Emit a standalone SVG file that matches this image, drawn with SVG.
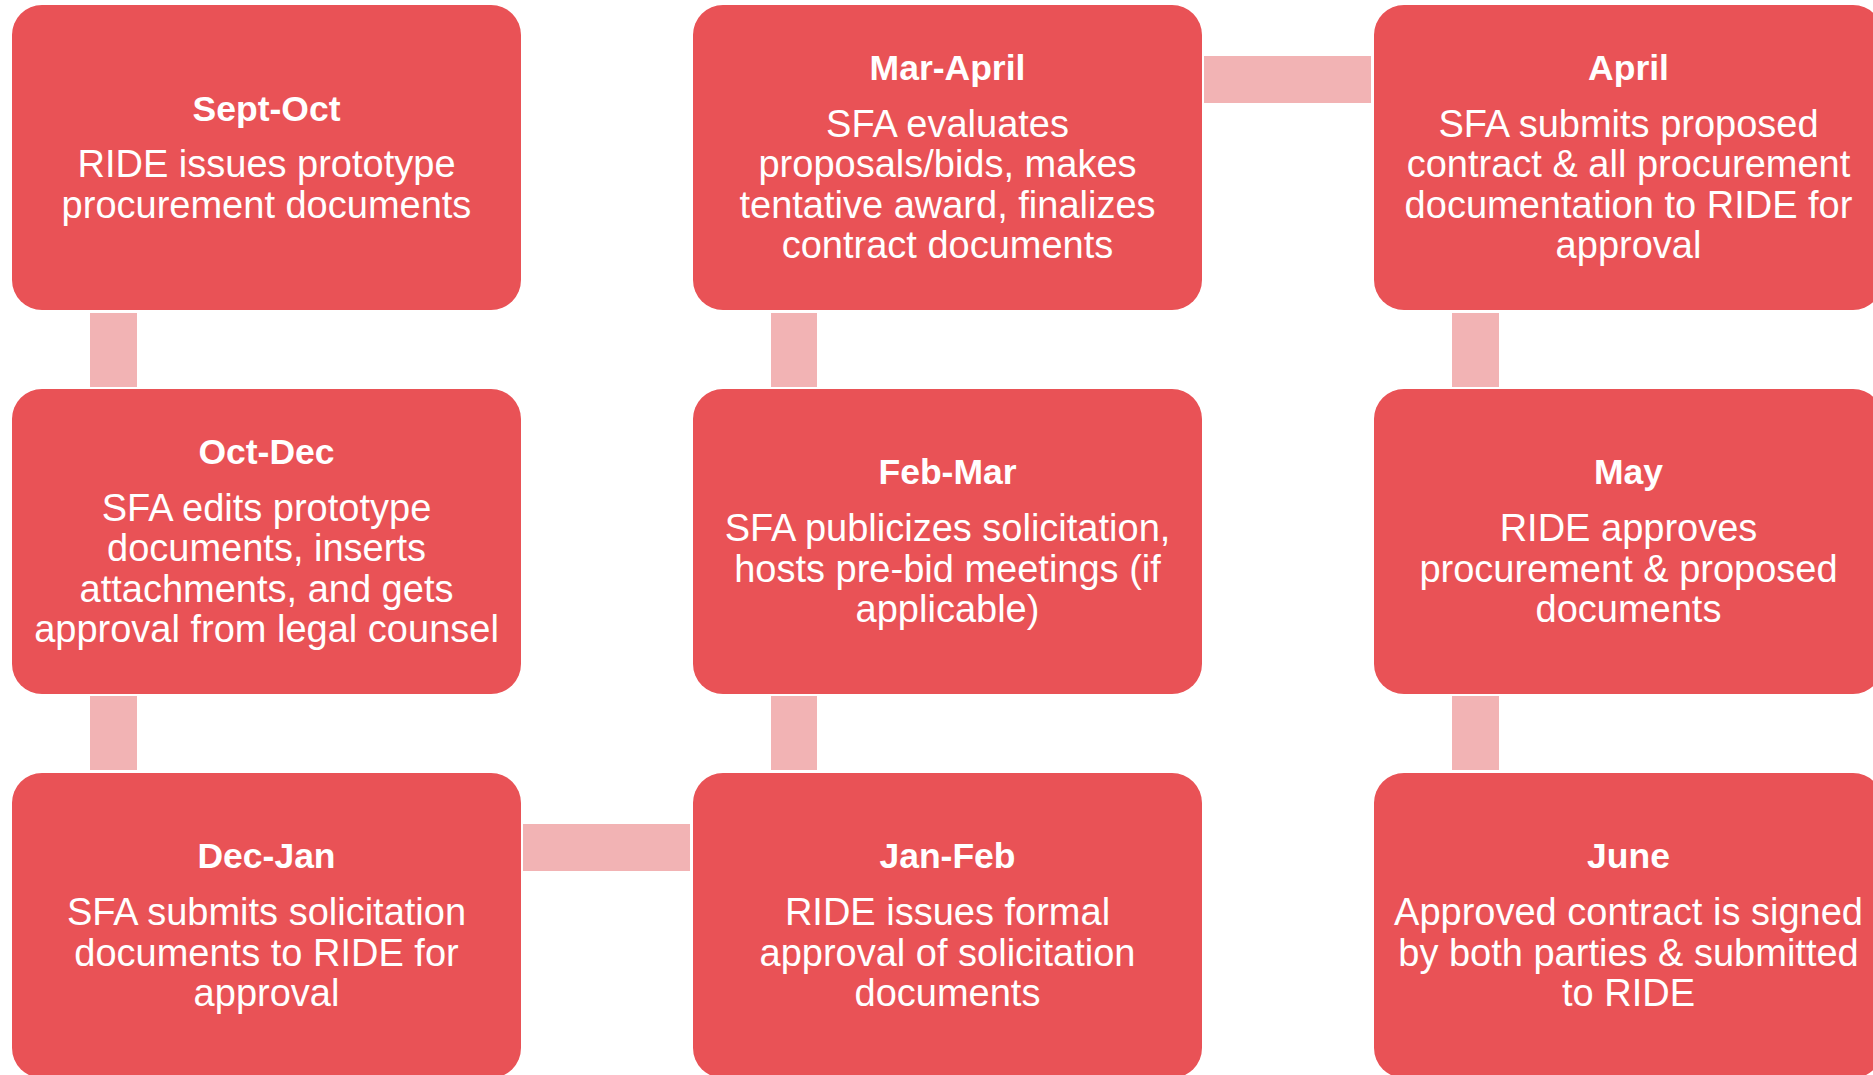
<svg xmlns="http://www.w3.org/2000/svg" width="1873" height="1075" viewBox="0 0 1873 1075">
  <style>
    .box { fill: #E95256; }
    .link { fill: #F2B3B4; }
    text { fill: #ffffff; font-family: "Liberation Sans", Arial, sans-serif; text-anchor: middle; }
    .title { font-size: 35.5px; font-weight: bold; }
    .body { font-size: 38px; }
  </style>
  <rect width="1873" height="1075" fill="#ffffff"/>

  <!-- connectors between steps -->
  <g id="connectors">
    <rect class="link" x="90" y="313" width="47" height="74"/>
    <rect class="link" x="90" y="696" width="47" height="74"/>
    <rect class="link" x="523" y="824" width="167" height="47"/>
    <rect class="link" x="771" y="696" width="46" height="74"/>
    <rect class="link" x="771" y="313" width="46" height="74"/>
    <rect class="link" x="1204" y="56" width="167" height="47"/>
    <rect class="link" x="1452" y="313" width="47" height="74"/>
    <rect class="link" x="1452" y="696" width="47" height="74"/>
  </g>

  <g id="sept-oct">
    <rect class="box" x="12" y="5" width="509" height="305" rx="30"/>
    <text class="title" x="266.5" y="120.5">Sept-Oct</text>
    <text class="body"><tspan x="266.5" y="177.2">RIDE issues prototype</tspan><tspan x="266.5" y="217.8">procurement documents</tspan></text>
  </g>

  <g id="oct-dec">
    <rect class="box" x="12" y="389" width="509" height="305" rx="30"/>
    <text class="title" x="266.5" y="463.9">Oct-Dec</text>
    <text class="body"><tspan x="266.5" y="520.6">SFA edits prototype</tspan><tspan x="266.5" y="561.2">documents, inserts</tspan><tspan x="266.5" y="601.8">attachments, and gets</tspan><tspan x="266.5" y="642.4">approval from legal counsel</tspan></text>
  </g>

  <g id="dec-jan">
    <rect class="box" x="12" y="773" width="509" height="305" rx="30"/>
    <text class="title" x="266.5" y="868.2">Dec-Jan</text>
    <text class="body"><tspan x="266.5" y="924.9">SFA submits solicitation</tspan><tspan x="266.5" y="965.5">documents to RIDE for</tspan><tspan x="266.5" y="1006.1">approval</tspan></text>
  </g>

  <g id="jan-feb">
    <rect class="box" x="693" y="773" width="509" height="305" rx="30"/>
    <text class="title" x="947.5" y="868.2">Jan-Feb</text>
    <text class="body"><tspan x="947.5" y="924.9">RIDE issues formal</tspan><tspan x="947.5" y="965.5">approval of solicitation</tspan><tspan x="947.5" y="1006.1">documents</tspan></text>
  </g>

  <g id="feb-mar">
    <rect class="box" x="693" y="389" width="509" height="305" rx="30"/>
    <text class="title" x="947.5" y="484.2">Feb-Mar</text>
    <text class="body"><tspan x="947.5" y="540.9">SFA publicizes solicitation,</tspan><tspan x="947.5" y="581.5">hosts pre-bid meetings (if</tspan><tspan x="947.5" y="622.1">applicable)</tspan></text>
  </g>

  <g id="mar-april">
    <rect class="box" x="693" y="5" width="509" height="305" rx="30"/>
    <text class="title" x="947.5" y="79.9">Mar-April</text>
    <text class="body"><tspan x="947.5" y="136.6">SFA evaluates</tspan><tspan x="947.5" y="177.2">proposals/bids, makes</tspan><tspan x="947.5" y="217.8">tentative award, finalizes</tspan><tspan x="947.5" y="258.4">contract documents</tspan></text>
  </g>

  <g id="april">
    <rect class="box" x="1374" y="5" width="509" height="305" rx="30"/>
    <text class="title" x="1628.5" y="79.9">April</text>
    <text class="body"><tspan x="1628.5" y="136.6">SFA submits proposed</tspan><tspan x="1628.5" y="177.2">contract &amp; all procurement</tspan><tspan x="1628.5" y="217.8">documentation to RIDE for</tspan><tspan x="1628.5" y="258.4">approval</tspan></text>
  </g>

  <g id="may">
    <rect class="box" x="1374" y="389" width="509" height="305" rx="30"/>
    <text class="title" x="1628.5" y="484.2">May</text>
    <text class="body"><tspan x="1628.5" y="540.9">RIDE approves</tspan><tspan x="1628.5" y="581.5">procurement &amp; proposed</tspan><tspan x="1628.5" y="622.1">documents</tspan></text>
  </g>

  <g id="june">
    <rect class="box" x="1374" y="773" width="509" height="305" rx="30"/>
    <text class="title" x="1628.5" y="868.2">June</text>
    <text class="body"><tspan x="1628.5" y="924.9">Approved contract is signed</tspan><tspan x="1628.5" y="965.5">by both parties &amp; submitted</tspan><tspan x="1628.5" y="1006.1">to RIDE</tspan></text>
  </g>
</svg>
